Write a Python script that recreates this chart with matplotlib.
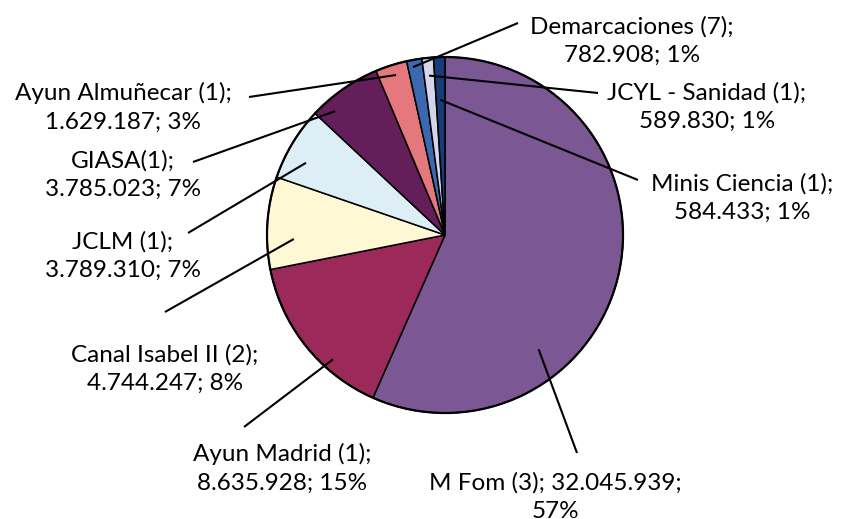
import numpy as np
import matplotlib.pyplot as plt

# data
names = ["M Fom (3)", "Ayun Madrid (1)", "Canal Isabel II (2)", "JCLM (1)", "GIASA(1)",
         "Ayun Almuñecar (1)", "Demarcaciones (7)", "JCYL - Sanidad (1)", "Minis Ciencia (1)"]
values = [32045939, 8635928, 4744247, 3789310, 3785023, 1629187, 782908, 589830, 584433]
colors = ["#7B5794", "#9B2A5B", "#FFF8D4", "#DDEEF6", "#641E5A",
          "#E5787C", "#3B68AE", "#D4D4EA", "#1B3A78"]

# label layout (pixel coords, y measured from top)
label_xy = [(555, 497), (282, 468), (165, 369), (123, 256), (123, 175),
            (123, 107), (632, 41), (707, 107), (742, 198)]
line_end = [(577, 453), (244, 427), (165, 312), (188, 233), (193, 162),
            (249, 97), (518, 23), (598, 93), (638, 180)]
anchor_t = [0.69, 0.33, 0.32, 0.35, 0.22, 0.56, 0.33, 0.47, 0.46]
anchor_r = [0.83, 0.94, 0.85, 0.88, 0.93, 0.94, 0.96, 0.90, 0.76]

W, H = 849, 519
cx, cy, R = 445, H - 235, 178

fig = plt.figure(figsize=(W / 100, H / 100), dpi=100)
ax = fig.add_axes([0, 0, 1, 1])

wedges, _ = ax.pie(values, colors=colors, startangle=90, counterclock=False,
                   center=(cx, cy), radius=R, frame=True,
                   wedgeprops=dict(edgecolor="black", linewidth=1.1))
ax.add_patch(plt.Circle((cx, cy), R, fill=False, edgecolor="black", linewidth=1.6))
ax.set_xlim(0, W)
ax.set_ylim(0, H)
ax.set_aspect("equal")
ax.axis("off")

total = sum(values)
for i, w in enumerate(wedges):
    # wedge goes clockwise: theta2 -> theta1
    ang = np.deg2rad(w.theta2 - anchor_t[i] * (w.theta2 - w.theta1))
    ax_x = cx + anchor_r[i] * R * np.cos(ang)
    ax_y = cy + anchor_r[i] * R * np.sin(ang)
    ex, ey = line_end[i]
    ax.plot([ax_x, ex], [ax_y, H - ey], color="black", linewidth=1.5,
            solid_capstyle="butt")
    val = f"{values[i]:,}".replace(",", ".")
    pct = f"{round(values[i] / total * 100)}%"
    if i == 0:
        txt = f"{names[i]}; {val};\n{pct}"
    else:
        txt = f"{names[i]};\n{val}; {pct}"
    lx, ly = label_xy[i]
    ax.text(lx, H - ly, txt, ha="center", va="center", fontsize=17.5,
            family=["Lato", "DejaVu Sans"], linespacing=1.45)

fig.savefig("out.png", dpi=100)
